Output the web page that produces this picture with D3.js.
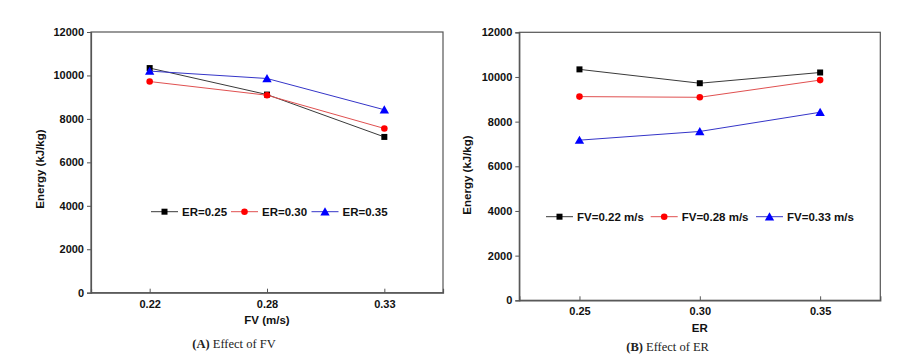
<!DOCTYPE html>
<html><head><meta charset="utf-8">
<script src="https://cdn.jsdelivr.net/npm/d3@7"></script>
<style>
body{margin:0;background:#fff;}
svg{display:block;}
text{font-family:"Liberation Sans",Arial,sans-serif;font-weight:bold;fill:#111;}
.cap{font-family:"Liberation Serif","Times New Roman",serif;font-weight:normal;fill:#222;}
</style>
</head><body>
<svg id="c" width="913" height="359"></svg>
<script>
// Data
const fvLabels = ["0.22", "0.28", "0.33"];
const erLabels = ["0.25", "0.30", "0.35"];
const yTicks = [0, 2000, 4000, 6000, 8000, 10000, 12000];
// energy (kJ/kg) by FV (rows) and ER (columns)
const energyFV022 = [10340, 9720, 10200];
const energyFV028 = [9120, 9090, 9860];
const energyFV033 = [7170, 7560, 8420];
const energyByFV = [energyFV022, energyFV028, energyFV033];

const styles = [
  {line:"#3a3a3a", fill:"#000000", sym:d3.symbolSquare, size:36},
  {line:"#e05050", fill:"#ff0000", sym:d3.symbolCircle, size:34},
  {line:"#3535c8", fill:"#0000ff", sym:d3.symbolTriangle, size:38}
];

const svg = d3.select("#c");

function panel(cfg){
  const g = svg.append("g");
  const x = d3.scalePoint().domain(cfg.cats).range([cfg.x0, cfg.x1]).padding(0.5);
  const y = d3.scaleLinear().domain([0, 12000]).range([cfg.y1, cfg.y0]);
  // frame
  g.append("rect").attr("x", cfg.x0).attr("y", cfg.y0)
    .attr("width", cfg.x1 - cfg.x0).attr("height", cfg.y1 - cfg.y0)
    .attr("fill", "none").attr("stroke", "#555").attr("stroke-width", 1.2);
  // y axis
  const ya = g.append("g").attr("transform", `translate(${cfg.x0},0)`)
    .call(d3.axisLeft(y).tickValues(yTicks).tickSize(4).tickPadding(3).tickFormat(d3.format("d")));
  ya.select(".domain").attr("stroke", "#555").attr("stroke-width", 1.2);
  ya.selectAll(".tick line").attr("stroke", "#555");
  ya.selectAll("text").attr("font-size", 11).attr("font-family", "Liberation Sans, Arial").attr("font-weight", "bold").attr("fill", "#111");
  // x axis, ticks inward
  const xa = g.append("g").attr("transform", `translate(0,${cfg.y1})`)
    .call(d3.axisBottom(x).tickSize(-4).tickPadding(cfg.xPad));
  xa.select(".domain").attr("stroke", "#555").attr("stroke-width", 1.2);
  xa.selectAll(".tick line").attr("stroke", "#555");
  xa.selectAll("text").attr("font-size", 11).attr("font-family", "Liberation Sans, Arial").attr("font-weight", "bold").attr("fill", "#111");
  // titles
  g.append("text").attr("x", (cfg.x0 + cfg.x1) / 2).attr("y", cfg.xTitleY)
    .attr("text-anchor", "middle").attr("font-size", 11.5).text(cfg.xTitle);
  g.append("text").attr("transform", `translate(${cfg.yTitleX},${cfg.yTitleY}) rotate(-90)`)
    .attr("text-anchor", "middle").attr("font-size", 11.5).text("Energy (kJ/kg)");
  // series
  const line = d3.line().x(d => x(d[0])).y(d => y(d[1]));
  cfg.series.forEach((vals, i) => {
    const pts = cfg.cats.map((c, j) => [c, vals[j]]);
    g.append("path").datum(pts).attr("d", line).attr("fill", "none")
      .attr("stroke", styles[i].line).attr("stroke-width", 1);
  });
  cfg.series.forEach((vals, i) => {
    const pts = cfg.cats.map((c, j) => [c, vals[j]]);
    g.selectAll(null).data(pts).enter().append("path")
      .attr("d", d3.symbol().type(styles[i].sym).size(styles[i].size))
      .attr("transform", d => `translate(${x(d[0])},${y(d[1]) + (i === 2 ? 1 : 0)})`)
      .attr("fill", styles[i].fill);
  });
  // legend
  cfg.legend.forEach((lab, i) => {
    const lx = cfg.legX[i], ly = cfg.legY;
    g.append("line").attr("x1", lx).attr("x2", lx + 27).attr("y1", ly).attr("y2", ly)
      .attr("stroke", styles[i].line).attr("stroke-width", 1);
    g.append("path").attr("d", d3.symbol().type(styles[i].sym).size(styles[i].size))
      .attr("transform", `translate(${lx + 13.5},${ly + (i === 2 ? 1 : 0)})`).attr("fill", styles[i].fill);
    g.append("text").attr("x", lx + 31).attr("y", ly + 4).attr("font-size", 11.5).text(lab);
  });
  // caption
  const cap = g.append("text").attr("class", "cap").attr("x", cfg.capX).attr("y", cfg.capY)
    .attr("text-anchor", "middle").attr("font-size", 12.5);
  cap.append("tspan").attr("font-weight", "bold").text(cfg.capBold);
  cap.append("tspan").text(cfg.capText);
}

// Panel A: effect of FV, one series per ER
panel({
  cats: fvLabels, x0: 91, x1: 443, y0: 32, y1: 292.7, xPad: 8,
  series: erLabels.map((e, j) => energyByFV.map(r => r[j])),
  xTitle: "FV (m/s)", xTitleY: 324, yTitleX: 44, yTitleY: 169,
  legend: erLabels.map(e => "ER=" + e), legX: [151, 231, 311.5], legY: 211.7,
  capX: 234, capY: 347.5, capBold: "(A)", capText: " Effect of FV"
});

// Panel B: effect of ER, one series per FV
panel({
  cats: erLabels, x0: 519.3, x1: 880.3, y0: 32.3, y1: 300.3, xPad: 7,
  series: energyByFV,
  xTitle: "ER", xTitleY: 332, yTitleX: 471, yTitleY: 175,
  legend: fvLabels.map(f => "FV=" + f + " m/s"), legX: [546, 650.7, 756], legY: 216.7,
  capX: 667.6, capY: 351, capBold: "(B)", capText: " Effect of ER"
});
</script>
</body></html>
